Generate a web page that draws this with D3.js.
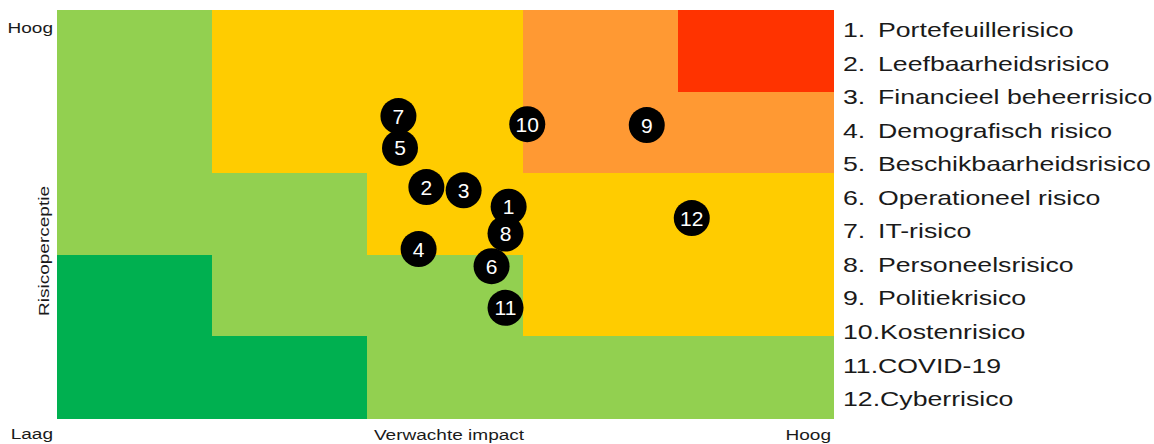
<!DOCTYPE html>
<html>
<head>
<meta charset="utf-8">
<script src="https://cdn.jsdelivr.net/npm/d3@7"></script>
<style>
  body { margin: 0; background: #fff; }
  svg { display: block; font-family: "Liberation Sans", Arial, sans-serif; }
</style>
</head>
<body>
<div id="chart"></div>
<script>
// risk names and positions (impact, perception) on a 0-5 scale
var risks = ['Portefeuillerisico', 'Leefbaarheidsrisico', 'Financieel beheerrisico', 'Demografisch risico',
             'Beschikbaarheidsrisico', 'Operationeel risico', 'IT-risico', 'Personeelsrisico',
             'Politiekrisico', 'Kostenrisico', 'COVID-19', 'Cyberrisico'];
var impact =     [2.91, 2.38, 2.62, 2.33, 2.21, 2.80, 2.20, 2.89, 3.80, 3.03, 2.89, 4.09];
var perception = [2.59, 2.83, 2.79, 2.07, 3.31, 1.86, 3.70, 2.26, 3.59, 3.60, 1.35, 2.45];

// heat grid, top row first, value = risk level
var gridLevels = [
  [1, 2, 2, 3, 4],
  [1, 2, 2, 3, 3],
  [1, 1, 2, 2, 2],
  [0, 1, 1, 2, 2],
  [0, 0, 1, 1, 1]
];
var levelColors = ['#00B050', '#92D050', '#FFCC00', '#FF9933', '#FF3300'];

var width = 1154, height = 444;
var plot = {left: 57, right: 833, top: 10, bottom: 418};

var svg = d3.select('#chart').append('svg')
    .attr('width', width)
    .attr('height', height);

var x = d3.scaleLinear().domain([0, 5]).range([plot.left, plot.right]);
var y = d3.scaleLinear().domain([0, 5]).range([plot.bottom, plot.top]);

var cells = [];
gridLevels.forEach(function(row, r) {
  row.forEach(function(level, c) {
    cells.push({col: c, row: 4 - r, level: level});
  });
});

svg.append('g')
  .attr('shape-rendering', 'crispEdges')
  .selectAll('rect')
  .data(cells)
  .enter().append('rect')
  .attr('x', function(d) { return x(d.col); })
  .attr('y', function(d) { return y(d.row + 1); })
  .attr('width', x(1) - x(0) + 1)
  .attr('height', y(0) - y(1) + 1)
  .attr('fill', function(d) { return levelColors[d.level]; });

// markers
var points = risks.map(function(name, i) {
  return {n: i + 1, name: name, x: impact[i], y: perception[i]};
});

var marks = svg.append('g').selectAll('g')
  .data(points)
  .enter().append('g')
  .attr('transform', function(d) { return 'translate(' + x(d.x) + ',' + y(d.y) + ')'; });

marks.append('circle')
  .attr('r', 18)
  .attr('fill', '#000');

marks.append('text')
  .text(function(d) { return d.n; })
  .attr('text-anchor', 'middle')
  .attr('dy', '0.36em')
  .attr('fill', '#fff')
  .style('font-size', '21px');

// axis labels (text in the original is stretched horizontally)
var sx = 1.27;
function label(txt, tx, ty, anchor, rot) {
  svg.append('text')
    .attr('transform', 'translate(' + tx + ',' + ty + ')' + (rot ? ' rotate(-90)' : '') + ' scale(' + sx + ',1)')
    .attr('text-anchor', anchor)
    .attr('fill', '#1a1a1a')
    .style('font-size', '15px')
    .text(txt);
}
label('Hoog', 53, 33, 'end');
label('Laag', 53, 439, 'end');
label('Verwachte impact', 449, 440, 'middle');
label('Hoog', 831, 440, 'end');
label('Risicoperceptie', 49, 251, 'middle', true);

// legend
var ls = 1.27;
var legend = svg.append('g').selectAll('g')
  .data(points)
  .enter().append('g')
  .attr('transform', function(d, i) { return 'translate(843,' + (37 + i * 33.55) + ') scale(' + ls + ',1)'; })
  .style('font-size', '21px')
  .attr('fill', '#1a1a1a');

legend.append('text')
  .text(function(d) { return d.n < 10 ? d.n + '.' : d.n + '.' + d.name; });

legend.filter(function(d) { return d.n < 10; })
  .append('text')
  .attr('x', 35 / ls)
  .text(function(d) { return d.name; });
</script>
</body>
</html>
